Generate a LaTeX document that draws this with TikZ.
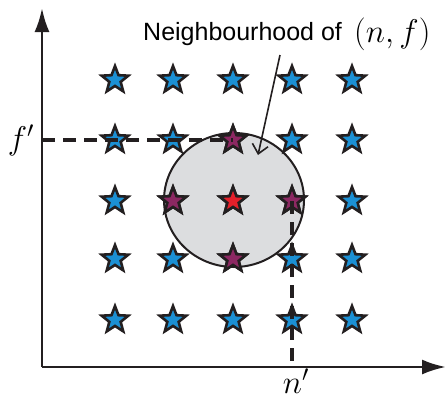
\documentclass[tikz,border=0pt]{standalone}
\usepackage{graphicx}
\usepackage{fontspec}
\setsansfont{Liberation Sans}
\usetikzlibrary{shapes.geometric,arrows.meta}
\definecolor{starblue}{HTML}{1B90D4}
\definecolor{starpurple}{HTML}{8C2862}
\definecolor{starred}{HTML}{E5202A}
\definecolor{hoodgray}{HTML}{DCDDDF}
\definecolor{inkdark}{HTML}{231F20}
\newcommand{\bigmath}[1]{\scalebox{1.32}{$#1$}}
\begin{document}
\begin{tikzpicture}[x=1pt,y=-1pt,
  pt/.style={star,star points=5,star point ratio=2.35,minimum size=28pt,inner sep=0pt,draw=inkdark,line width=2.6pt},
  bluestar/.style={pt,fill=starblue},
  purplestar/.style={pt,fill=starpurple},
  redstar/.style={pt,fill=starred},
  axis/.style={draw=inkdark,line width=2.8pt,-{Latex[length=24pt,width=15pt]}},
  guide/.style={draw=inkdark,line width=3.8pt,dash pattern=on 13pt off 8pt},
  mathlbl/.style={font=\fontsize{25}{25}\selectfont,inner sep=0pt}]
\useasboundingbox (0,0) rectangle (446,400);
% neighbourhood
\node[ellipse,minimum width=140pt,minimum height=134pt,inner sep=0pt,fill=hoodgray,draw=inkdark,line width=2pt] (hood) at (234,200) {};
% axes
\coordinate (origin) at (42,367);
\coordinate (ytip) at (42,8);
\coordinate (xtip) at (446,367);
\draw[axis] (origin) -- (ytip);
\draw[axis] (origin) -- (xtip);
% stars
\foreach \c/\x in {1/115,2/173,3/233,4/292,5/352}{
  \foreach \r/\y in {1/80,2/140,3/201,4/259,5/320}{
    \node[bluestar] (s-\r-\c) at (\x,\y) {};
  }
}
\node[purplestar] (p-2-3) at (233,140) {};
\node[purplestar] (p-3-2) at (173,201) {};
\node[purplestar] (p-3-4) at (292,201) {};
\node[purplestar] (p-4-3) at (233,259) {};
\node[redstar] (c) at (233,201) {};
% labels
\node[mathlbl] (fp) at (21,140) {\bigmath{f'}};
\node[mathlbl] (np) at (296,381) {\bigmath{n'}};
\coordinate (fpaxis) at (42,140);
\coordinate (npaxis) at (292,367);
\draw[guide] (fpaxis) -- (p-2-3.center);
\draw[guide] (p-3-4.center) -- (npaxis);
% annotation
\node[font=\sffamily\fontsize{25}{25}\selectfont,inner sep=0pt,anchor=base west] (lbl) at (143,40) {Neighbourhood of};
\node[mathlbl,anchor=base west] (nf) at (354,42) {\bigmath{(n,f)}};
\coordinate (astart) at (280,55);
\coordinate (aend) at (258,155);
\draw[draw=inkdark,line width=1.6pt,-{Straight Barb[length=9pt,width=16pt]}] (astart) -- (aend);
\end{tikzpicture}
\end{document}
